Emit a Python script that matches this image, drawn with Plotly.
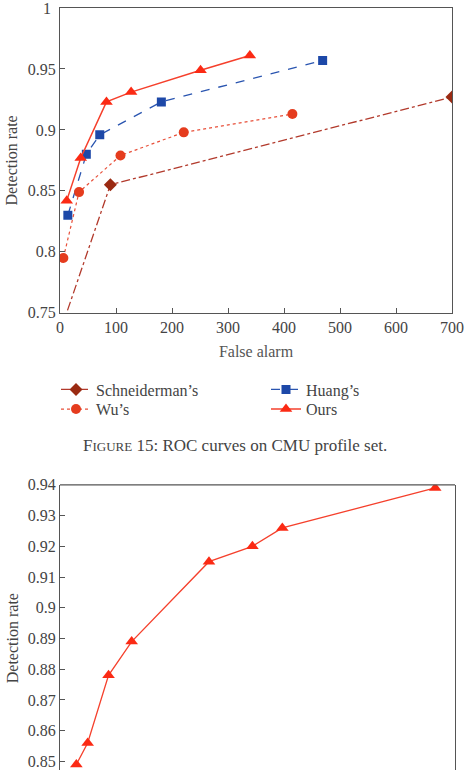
import plotly.graph_objects as go

# ---- Data: Figure 15 (ROC curves on CMU profile set) ----
schneiderman_x = [3, 90, 700]
schneiderman_y = [0.738, 0.855, 0.927]
huang_x = [14, 47, 71, 181, 469]
huang_y = [0.830, 0.880, 0.896, 0.923, 0.957]
wu_x = [6, 34, 108, 221, 415]
wu_y = [0.795, 0.849, 0.879, 0.898, 0.913]
ours_x = [12, 37, 83, 127, 251, 339]
ours_y = [0.842, 0.877, 0.923, 0.931, 0.949, 0.961]

# ---- Data: second chart (partially visible) ----
ours2_x = [29, 49, 86, 127, 264, 341, 394, 665]
ours2_y = [0.849, 0.856, 0.878, 0.889, 0.915, 0.920, 0.926, 0.939]

top_yticks = [0.75, 0.8, 0.85, 0.9, 0.95, 1.0]
top_yticklabels = ["0.75", "0.8", "0.85", "0.9", "0.95", "1"]
top_xticks = [0, 100, 200, 300, 400, 500, 600, 700]
bot_yticks = [0.85, 0.86, 0.87, 0.88, 0.89, 0.90, 0.91, 0.92, 0.93, 0.94]
bot_yticklabels = ["0.85", "0.86", "0.87", "0.88", "0.89", "0.9", "0.91", "0.92", "0.93", "0.94"]

FONT = "Liberation Serif"
W, H = 467, 779
ML, MR, MT, MB = 60, 12, 4, 0
PW = W - ML - MR

def py(p):
    return (H - p) / (H - MT - MB)

def px(p):
    return (p - ML) / PW

fig = go.Figure()

fig.add_trace(go.Scatter(
    x=schneiderman_x, y=schneiderman_y, name="Schneiderman’s", mode="lines+markers",
    line=dict(color="#b23a2c", width=1.3, dash="dashdot"),
    marker=dict(symbol="diamond", size=10, color="#9a2a12"),
    xaxis="x", yaxis="y", legend="legend"))
fig.add_trace(go.Scatter(
    x=huang_x, y=huang_y, name="Huang’s", mode="lines+markers",
    line=dict(color="#2a55b0", width=1.3, dash="dash"),
    marker=dict(symbol="square", size=9, color="#1d48a8"),
    xaxis="x", yaxis="y", legend="legend2"))
fig.add_trace(go.Scatter(
    x=wu_x, y=wu_y, name="Wu’s", mode="lines+markers",
    line=dict(color="#e8503a", width=1.2, dash="dot"),
    marker=dict(symbol="circle", size=10, color="#e53c1e"),
    xaxis="x", yaxis="y", legend="legend3"))
fig.add_trace(go.Scatter(
    x=ours_x, y=ours_y, name="Ours", mode="lines+markers",
    line=dict(color="#f5402c", width=1.5),
    marker=dict(symbol="triangle-up", size=11, color="#fb2a14"),
    xaxis="x", yaxis="y", legend="legend4"))

fig.add_trace(go.Scatter(
    x=ours2_x, y=ours2_y, name="Ours", mode="lines+markers", showlegend=False,
    line=dict(color="#f5402c", width=1.3),
    marker=dict(symbol="triangle-up", size=11, color="#fb2a14"),
    xaxis="x2", yaxis="y2"))

tickfont = dict(family=FONT, size=16, color="#444")
axis_common = dict(showline=True, linecolor="#555", linewidth=1.3, mirror=True,
                   ticks="inside", ticklen=5, tickcolor="#555", showgrid=False,
                   zeroline=False, tickfont=tickfont)

legend_common = dict(orientation="v", yanchor="middle", xanchor="left",
                     font=dict(family=FONT, size=16, color="#444"),
                     itemwidth=30, tracegroupgap=0, bgcolor="rgba(0,0,0,0)")

# label for the top tick (1), which sits at the very top edge of the page
top_label_text = top_yticklabels[-1]
top_label_val = top_yticks[-1]
shown_top_labels = top_yticklabels[:-1] + [""]

fig.update_layout(
    width=W, height=H,
    margin=dict(l=ML, r=MR, t=MT, b=MB),
    paper_bgcolor="white", plot_bgcolor="white",
    font=dict(family=FONT, size=16, color="#444"),
    xaxis=dict(domain=[0, 392 / PW], range=[0, 700], tickvals=top_xticks,
               title=dict(text="False alarm", font=dict(family=FONT, size=16, color="#555"), standoff=10),
               anchor="y", **axis_common),
    yaxis=dict(domain=[py(314), py(4)], range=[0.75, 1.0], tickvals=top_yticks,
               ticktext=shown_top_labels,
               title=dict(text="Detection rate", font=dict(family=FONT, size=16, color="#444"), standoff=6),
               anchor="x", **axis_common),
    xaxis2=dict(domain=[0, 1], range=[0, 700], showticklabels=False, showline=False,
                showgrid=False, zeroline=False, ticks="", anchor="y2"),
    yaxis2=dict(domain=[0, py(489)], range=[0.8472, 0.94], tickvals=bot_yticks,
                ticktext=bot_yticklabels, anchor="x2", **axis_common),
    legend=dict(x=px(56), y=py(392), **legend_common),
    legend2=dict(x=px(266), y=py(392), **legend_common),
    legend3=dict(x=px(56), y=py(412), **legend_common),
    legend4=dict(x=px(266), y=py(412), **legend_common),
    shapes=[dict(type="line", xref="x2 domain", yref="y2 domain", x0=0, x1=1, y0=1, y1=1,
                 line=dict(color="#555", width=1.3))],
    annotations=[
        dict(text=top_label_text, xref="paper", yref="y", x=px(53), y=top_label_val,
             xanchor="right", yanchor="middle", showarrow=False,
             font=dict(family=FONT, size=16, color="#444")),
        dict(text="F<span style='font-size:13px'>IGURE</span> 15: ROC curves on CMU profile set.",
             xref="paper", yref="paper", x=px(235), y=py(449), xanchor="center", yanchor="middle",
             showarrow=False, font=dict(family=FONT, size=17, color="#444")),
        dict(text="Detection rate", xref="paper", yref="paper", x=px(12),
             y=py(645), xanchor="center", yanchor="middle", textangle=-90,
             showarrow=False, font=dict(family=FONT, size=16, color="#444")),
    ],
)

fig.write_html("out.html")
